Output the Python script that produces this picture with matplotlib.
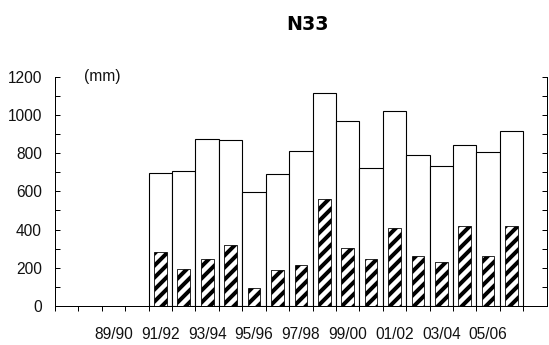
import matplotlib
matplotlib.use("Agg")
import matplotlib.pyplot as plt
from matplotlib.ticker import MultipleLocator, FixedLocator
from matplotlib.font_manager import FontProperties

seasons = ["87/88", "88/89", "89/90", "90/91", "91/92", "92/93", "93/94", "94/95",
           "95/96", "96/97", "97/98", "98/99", "99/00", "00/01", "01/02", "02/03",
           "03/04", "04/05", "05/06", "06/07", "07/08"]
bar_seasons = ["91/92", "92/93", "93/94", "94/95", "95/96", "96/97", "97/98", "98/99",
               "99/00", "00/01", "01/02", "02/03", "03/04", "04/05", "05/06", "06/07"]
total = [694, 705, 872, 868, 595, 691, 811, 1115, 968, 720, 1019, 790, 733, 844, 804, 918]
part = [284, 192, 244, 321, 94, 188, 213, 562, 304, 244, 406, 263, 232, 419, 263, 419]
shown_labels = ["89/90", "91/92", "93/94", "95/96", "97/98", "99/00", "01/02", "03/04", "05/06"]

label_fp = FontProperties(family=['Liberation Sans', 'DejaVu Sans'], size=15.5)

DPI = 72
plt.rcParams['hatch.linewidth'] = 4.0
plt.rcParams['hatch.color'] = 'black'

fig = plt.figure(figsize=(549 / DPI, 345 / DPI), dpi=DPI)
ax = fig.add_axes([55 / 549, 39 / 345, (546.7 - 55) / 549, (268.3 - 39) / 345])

xpos = [seasons.index(s) for s in bar_seasons]
ax.bar(xpos, total, width=1.0, facecolor='white', edgecolor='black', linewidth=1.1, zorder=2)
ax.bar(xpos, part, width=0.54, facecolor='white', edgecolor='black', linewidth=0.8,
       hatch='//', zorder=3)

ax.set_xlim(-0.5, len(seasons) - 0.5)
ax.set_ylim(0, 1200)

ax.xaxis.set_major_locator(FixedLocator([seasons.index(s) for s in shown_labels]))
ax.set_xticklabels(shown_labels)
ax.xaxis.set_minor_locator(FixedLocator([i - 0.5 for i in range(len(seasons))]))
ax.tick_params(axis='x', which='major', length=0, pad=21)
ax.tick_params(axis='x', which='minor', direction='out', length=5, width=1, color='black')

ax.yaxis.set_major_locator(MultipleLocator(200))
ax.yaxis.set_minor_locator(MultipleLocator(100))
ax.tick_params(axis='y', which='both', direction='in', length=5, width=1, left=True, right=True, pad=13)

for lab in ax.get_xticklabels() + ax.get_yticklabels():
    lab.set_fontproperties(label_fp)
    lab.set_color('#111111')

for sp in ax.spines.values():
    sp.set_linewidth(1.0)
    sp.set_color('black')
ax.spines['top'].set_visible(False)

ax.text((102.5 - 55) / (546.7 - 55), 1200, "(mm)", transform=ax.get_yaxis_transform(),
        ha='center', va='center', fontproperties=label_fp, color='#111111')

fig.text(308 / 549, 1 - 25 / 345, "N33", ha='center', va='center', fontsize=19,
         fontweight='bold', family=['DejaVu Sans'])

fig.savefig("out.png", dpi=DPI, facecolor='white')
